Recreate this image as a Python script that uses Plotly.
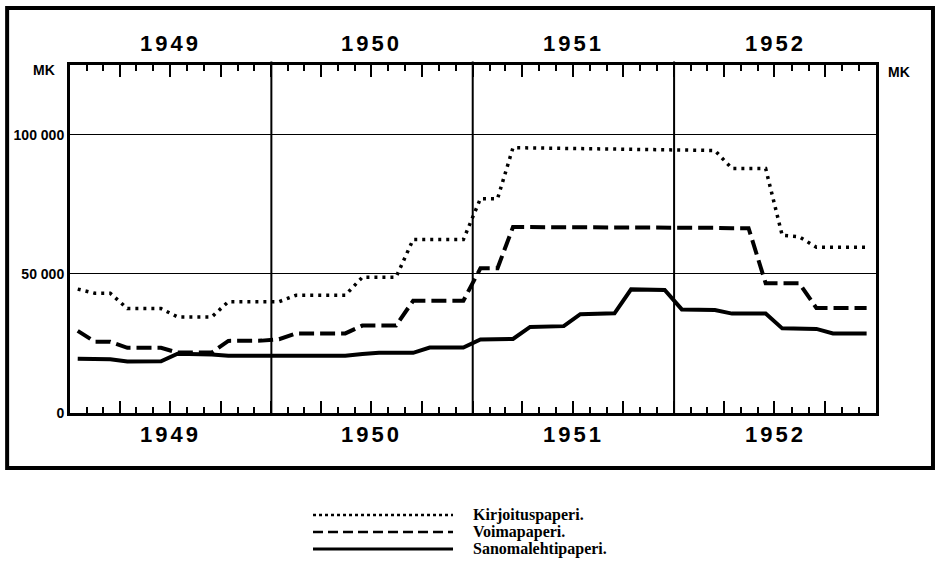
import plotly.graph_objects as go

# ---------------- data (Finnish marks per ton, monthly 1949-1952) ----------------
years = [1949, 1950, 1951, 1952]
month_numbers = [1, 2, 3, 4, 5, 6, 7, 8, 9, 10, 11, 12]
year_labels = ["1949", "1950", "1951", "1952"]

kirjoituspaperi = [
    44500, 43000, 43000, 37500, 37500, 37500, 34500, 34500, 34500, 40000, 40000, 40000,
    40000, 42300, 42300, 42300, 42300, 48800, 48800, 48800, 62300, 62300, 62300, 62300,
    77000, 77000, 95300, 95200, 95100, 95000, 95000, 94900, 94800, 94700, 94600, 94500,
    94500, 94400, 94300, 87800, 87800, 87800, 63800, 63300, 59500, 59500, 59500, 59500,
]
voimapaperi = [
    29500, 25600, 25600, 23400, 23400, 23400, 21700, 21700, 21700, 25900, 25900, 26000,
    26500, 28600, 28600, 28600, 28600, 31400, 31400, 31400, 40300, 40300, 40300, 40300,
    52000, 52000, 66800, 66800, 66800, 66800, 66800, 66700, 66700, 66700, 66600, 66600,
    66600, 66500, 66500, 66400, 66400, 46600, 46600, 46600, 37700, 37700, 37700, 37700,
]
sanomalehtipaperi = [
    19500, 19500, 19300, 18500, 18500, 18600, 21300, 21300, 21000, 20600, 20600, 20600,
    20600, 20600, 20600, 20600, 20600, 21200, 21600, 21600, 21600, 23500, 23500, 23500,
    26400, 26400, 26600, 30900, 30900, 31200, 35500, 35500, 35800, 44400, 44400, 44200,
    37200, 37200, 37000, 35700, 35700, 35700, 30400, 30400, 30200, 28600, 28600, 28600,
]
y_tickvals = [0, 50000, 100000]
y_ticktext = ["0", "50 000", "100 000"]
series_names = ["Kirjoituspaperi.", "Voimapaperi.", "Sanomalehtipaperi."]

# mid-month dates
dates = [f"{y}-{m:02d}-15" for y in years for m in month_numbers]

SANS = "Liberation Sans, Arial, sans-serif"
SERIF = "Liberation Serif, Times New Roman, serif"

styles = [
    dict(color="black", width=3.5, dash="3px,5px"),
    dict(color="black", width=4, dash="15px,6px"),
    dict(color="black", width=4, dash="solid"),
]
legend_dash = ["3px,3px", "10px,5px", "solid"]

fig = go.Figure()
for name, vals, st in zip(series_names, [kirjoituspaperi, voimapaperi, sanomalehtipaperi], styles):
    fig.add_trace(go.Scatter(x=dates, y=vals, mode="lines", name=name, line=st,
                             showlegend=False, hoverinfo="x+y+name"))

tickfont = dict(family=SANS, size=14, color="black", weight="bold")

fig.update_layout(
    width=937, height=572,
    margin=dict(l=70, r=61, t=65, b=159, autoexpand=False),
    paper_bgcolor="white", plot_bgcolor="white",
    showlegend=False,
    xaxis=dict(
        type="date", range=["1949-01-01", "1953-01-01"],
        showgrid=False, zeroline=False,
        showline=True, linecolor="black", linewidth=3, mirror="ticks",
        tickmode="linear", tick0="1949-01-01", dtick="M3",
        ticks="inside", ticklen=12, tickwidth=1.5, tickcolor="black",
        showticklabels=False,
        minor=dict(tick0="1949-01-01", dtick="M1", ticks="inside", ticklen=6,
                   tickwidth=1.5, tickcolor="black", showgrid=False),
    ),
    yaxis=dict(
        range=[0, 125000], tickmode="array", tickvals=y_tickvals, ticktext=y_ticktext,
        showgrid=True, gridcolor="black", gridwidth=1.3, zeroline=False,
        showline=True, linecolor="black", linewidth=3, mirror=True, ticks="",
        tickfont=tickfont,
    ),
    yaxis2=dict(
        overlaying="y", side="right", matches="y", range=[0, 125000],
        tickmode="array", tickvals=y_tickvals, ticktext=y_ticktext,
        showgrid=False, zeroline=False, showline=False, ticks="",
        tickfont=tickfont,
    ),
)

# year boundary lines
for y in years[1:]:
    fig.add_shape(type="line", xref="x", yref="paper", x0=f"{y}-01-01", x1=f"{y}-01-01",
                  y0=0, y1=1.01, line=dict(color="black", width=2))

# year labels top and bottom
for y, lab in zip(years, year_labels):
    for ypos in (1.063, -0.063):
        fig.add_annotation(x=f"{y}-07-02", xref="x", y=ypos, yref="paper",
                           text=f'<span style="letter-spacing:3px">{lab}</span>',
                           showarrow=False,
                           font=dict(family=SANS, size=22, color="black", weight="bold"),
                           xanchor="center", yanchor="middle")

# MK unit labels
fig.add_annotation(x=-0.016, y=0.985, xref="paper", yref="paper", text="MK", showarrow=False,
                   xanchor="right", yanchor="middle", font=tickfont)
fig.add_annotation(x=1.013, y=0.98, xref="paper", yref="paper", text="MK", showarrow=False,
                   xanchor="left", yanchor="middle", font=tickfont)

# outer frame
fig.add_shape(type="rect", xref="paper", yref="paper", x0=-0.078, x1=1.0707, y0=-0.158, y1=1.1638,
              line=dict(color="black", width=4), fillcolor="rgba(0,0,0,0)", layer="below")

# legend below the frame
leg_y = [-0.293, -0.342, -0.391]
for name, st, ld, ly in zip(series_names, styles, legend_dash, leg_y):
    fig.add_shape(type="line", xref="paper", yref="paper", x0=0.3015, x1=0.4752, y0=ly, y1=ly,
                  line=dict(color="black", width=2.5 if ld != "solid" else 3, dash=ld))
    fig.add_annotation(x=0.4975, y=ly, xref="paper", yref="paper", text=name, showarrow=False,
                       xanchor="left", yanchor="middle",
                       font=dict(family=SERIF, size=16, color="black", weight="bold"))

fig.write_html(
    "out.html",
    config={"displayModeBar": False},
    post_script="document.body.style.margin='0';document.body.style.overflow='hidden';",
)
